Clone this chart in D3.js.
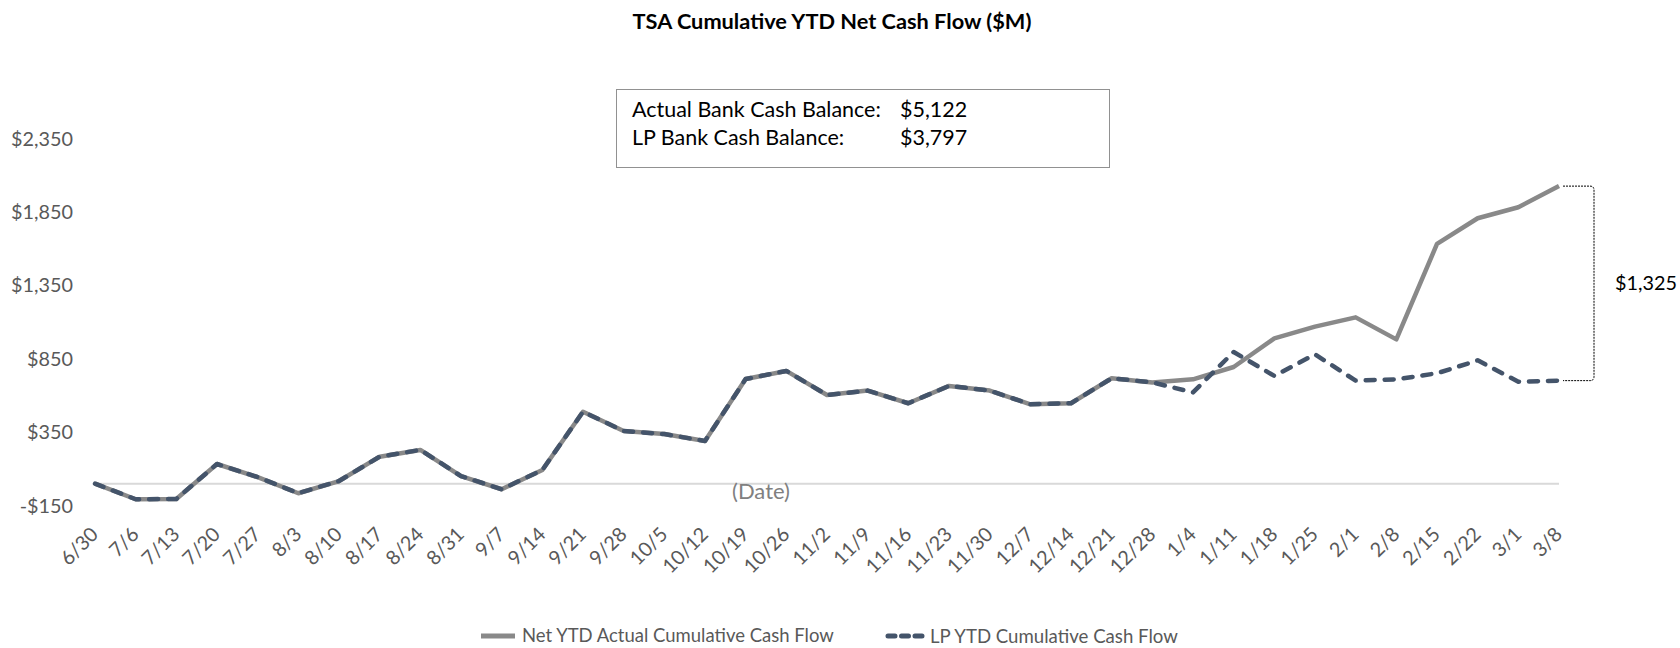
<!DOCTYPE html>
<html>
<head>
<meta charset="utf-8">
<script src="https://cdn.jsdelivr.net/npm/d3@7"></script>
<style>
  body { margin: 0; background: #fff; }
  svg { display: block; }
  text { font-family: Lato, "Open Sans", sans-serif; }
</style>
</head>
<body>
<div id="chart"></div>
<script>
const categories = ['6/30', '7/6', '7/13', '7/20', '7/27', '8/3', '8/10', '8/17', '8/24', '8/31',
  '9/7', '9/14', '9/21', '9/28', '10/5', '10/12', '10/19', '10/26', '11/2', '11/9', '11/16',
  '11/23', '11/30', '12/7', '12/14', '12/21', '12/28', '1/4', '1/11', '1/18', '1/25', '2/1',
  '2/8', '2/15', '2/22', '3/1', '3/8'];

const actualFlow = [0, -106, -104, 134, 45, -65, 18, 184, 230, 52, -38, 93, 490, 359, 338, 291,
  713, 768, 604, 634, 548, 666, 634, 541, 548, 718, 690, 711, 795, 990, 1070, 1133, 983, 1633,
  1808, 1883, 2027];

const lpFlow = [0, -106, -104, 134, 45, -65, 18, 184, 230, 52, -38, 93, 490, 359, 338, 291,
  713, 768, 604, 634, 548, 666, 634, 541, 548, 718, 690, 622, 897, 734, 881, 702, 711, 752,
  840, 695, 702];

const yTicks = [-150, 350, 850, 1350, 1850, 2350];

const actualBankBalance = 5122,
    lpBankBalance = 3797;

const width = 1680, height = 648;
const grayColor = '#898989', blueColor = '#44546a', labelColor = '#595959';

const fmt = d3.format(',.0f');
const money = function(v) { return (v < 0 ? '-$' : '$') + fmt(Math.abs(v)); };

// shrink or grow a text until it is as wide as w
function fitText(sel, w) {
  const len = sel.node().getComputedTextLength();
  sel.attr('font-size', parseFloat(sel.attr('font-size')) * w / len);
  return sel;
}

const svg = d3.select('#chart')
  .append('svg')
  .attr('width', width)
  .attr('height', height);

svg.append('rect').attr('width', width).attr('height', height).attr('fill', '#fff');

const x = d3.scalePoint().domain(categories).range([95, 1559]),
    y = d3.scaleLinear().domain([-150, 2350]).range([505.7, 138.7]);

// title
fitText(svg.append('text')
  .attr('x', 832)
  .attr('y', 29)
  .attr('text-anchor', 'middle')
  .attr('font-weight', 'bold')
  .attr('font-size', 20)
  .attr('fill', '#000')
  .text('TSA Cumulative YTD Net Cash Flow ($M)'), 399);

// y axis
const yAxis = svg.append('g')
  .attr('transform', 'translate(95,0)')
  .call(d3.axisLeft(y).tickValues(yTicks).tickSize(0).tickPadding(22).tickFormat(money));
yAxis.select('.domain').remove();
yAxis.selectAll('text').attr('fill', labelColor).attr('font-size', 20);
const tickSize = 20 * 62 / yAxis.select('.tick:last-of-type text').node().getComputedTextLength();
yAxis.selectAll('text').attr('font-size', tickSize);

// zero line
svg.append('line')
  .attr('x1', x(categories[0]))
  .attr('x2', x(categories[categories.length - 1]))
  .attr('y1', y(0))
  .attr('y2', y(0))
  .attr('stroke', '#d9d9d9')
  .attr('stroke-width', 2);

// x axis
const xAxis = svg.append('g')
  .attr('transform', 'translate(0,' + y(-150) + ')')
  .call(d3.axisBottom(x).tickSize(0));
xAxis.select('.domain').remove();
xAxis.selectAll('text')
  .attr('y', 0)
  .attr('dy', 0)
  .attr('fill', labelColor)
  .attr('font-size', tickSize)
  .attr('text-anchor', 'end')
  .attr('transform', 'translate(4,30) rotate(-45)');

fitText(svg.append('text')
  .attr('x', 761)
  .attr('y', 499)
  .attr('text-anchor', 'middle')
  .attr('font-size', 20)
  .attr('fill', '#808080')
  .text('(Date)'), 58);

// lines
const line = d3.line()
  .x(function(d, i) { return x(categories[i]); })
  .y(function(d) { return y(d); });

svg.append('path')
  .datum(actualFlow)
  .attr('fill', 'none')
  .attr('stroke', grayColor)
  .attr('stroke-width', 4.5)
  .attr('stroke-linejoin', 'round')
  .attr('d', line);

svg.append('path')
  .datum(lpFlow)
  .attr('fill', 'none')
  .attr('stroke', blueColor)
  .attr('stroke-width', 4.5)
  .attr('stroke-linecap', 'round')
  .attr('stroke-linejoin', 'round')
  .attr('stroke-dasharray', '9,10')
  .attr('d', line);

// bracket showing the gap at the last week
const last = categories.length - 1,
    bx = x(categories[last]),
    yTop = y(actualFlow[last]),
    yBot = y(lpFlow[last]);
svg.append('path')
  .attr('fill', 'none')
  .attr('stroke', '#000')
  .attr('stroke-width', 1)
  .attr('stroke-dasharray', '2,1')
  .attr('d', 'M' + (bx + 4) + ',' + yTop + 'H' + (bx + 31) + 'Q' + (bx + 35) + ',' + yTop + ' ' + (bx + 35) + ',' + (yTop + 4)
    + 'V' + (yBot - 4) + 'Q' + (bx + 35) + ',' + yBot + ' ' + (bx + 31) + ',' + yBot + 'H' + (bx + 4));

fitText(svg.append('text')
  .attr('x', bx + 56)
  .attr('y', (yTop + yBot) / 2)
  .attr('dy', '0.35em')
  .attr('font-size', 20)
  .attr('fill', '#000')
  .text(money(actualFlow[last] - lpFlow[last])), 62);

// balance box
svg.append('rect')
  .attr('x', 616.5)
  .attr('y', 89.5)
  .attr('width', 493)
  .attr('height', 78)
  .attr('fill', '#fff')
  .attr('stroke', '#222')
  .attr('stroke-width', 1)
  .attr('stroke-dasharray', '1,1');

const boxRows = [['Actual Bank Cash Balance:', actualBankBalance], ['LP Bank Cash Balance:', lpBankBalance]];
const boxLabel = fitText(svg.append('text')
  .attr('x', 632)
  .attr('y', 117)
  .attr('font-size', 20)
  .text(boxRows[0][0]), 249);
const boxSize = boxLabel.attr('font-size');
boxLabel.remove();

svg.selectAll('.box-label')
  .data(boxRows)
  .enter().append('text')
  .attr('class', 'box-label')
  .attr('x', 632)
  .attr('y', function(d, i) { return 117 + i * 28; })
  .attr('font-size', boxSize)
  .attr('fill', '#000')
  .text(function(d) { return d[0]; });

svg.selectAll('.box-value')
  .data(boxRows)
  .enter().append('text')
  .attr('class', 'box-value')
  .attr('x', 900)
  .attr('y', function(d, i) { return 117 + i * 28; })
  .attr('font-size', boxSize)
  .attr('fill', '#000')
  .text(function(d) { return money(d[1]); });

// legend
const legend = svg.append('g').attr('transform', 'translate(0,636)');
legend.append('line')
  .attr('x1', 481).attr('x2', 515)
  .attr('stroke', grayColor).attr('stroke-width', 5);
fitText(legend.append('text')
  .attr('x', 522)
  .attr('dy', '0.35em')
  .attr('font-size', 18)
  .attr('fill', labelColor)
  .text('Net YTD Actual Cumulative Cash Flow'), 312);

legend.append('line')
  .attr('x1', 888).attr('x2', 922)
  .attr('stroke', blueColor).attr('stroke-width', 5)
  .attr('stroke-linecap', 'round')
  .attr('stroke-dasharray', '7,6.5');
fitText(legend.append('text')
  .attr('x', 930)
  .attr('dy', '0.35em')
  .attr('font-size', 18)
  .attr('fill', labelColor)
  .text('LP YTD Cumulative Cash Flow'), 248);
</script>
</body>
</html>
